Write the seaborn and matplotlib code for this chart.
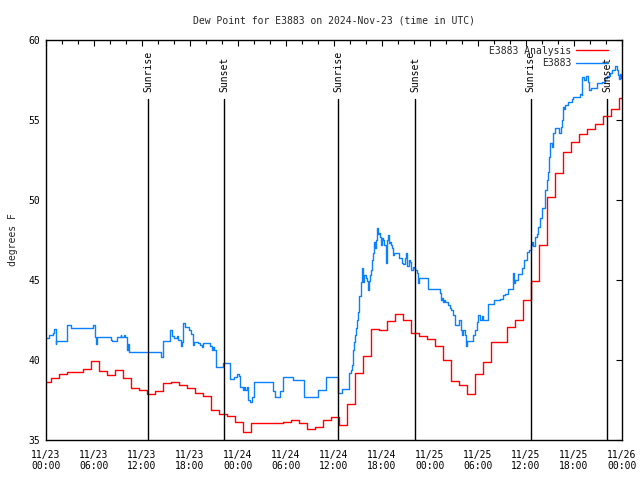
import numpy as np
import pandas as pd
import matplotlib
matplotlib.use("Agg")
import matplotlib.pyplot as plt
import matplotlib.dates as mdates
import seaborn as sns

# ---------------- data ----------------
start = pd.Timestamp("2024-11-23 00:00")

# E3883 Analysis (hourly, red) : first value at 00:00, then hourly from 00:40
analysis_init = 38.6
analysis_vals = [38.9, 39.1, 39.23, 39.23, 39.42, 39.92, 39.3, 39.04, 39.36, 38.86,
                 38.23, 38.1, 37.86, 38.04, 38.54, 38.6, 38.42, 38.23, 37.92, 37.75,
                 36.86, 36.6, 36.48, 36.1, 35.48, 36.04, 36.04, 36.04, 36.04, 36.1,
                 36.23, 36.04, 35.67, 35.8, 36.23, 36.42, 35.92, 37.23, 39.17, 40.23,
                 41.92, 41.86, 42.42, 42.86, 42.5, 41.67, 41.48, 41.3, 40.9, 40.0,
                 38.67, 38.42, 37.86, 39.1, 39.86, 41.1, 41.1, 42.04, 42.48, 43.73,
                 44.92, 47.19, 50.21, 51.67, 53.02, 53.6, 54.1, 54.44, 54.73, 55.23,
                 55.67, 56.35]

# E3883 observations (blue): hours since 11/23 00:00 and dew point
obs_hours = [0.0, 0.4, 0.9, 1.0, 1.2, 1.25, 2.65, 3.1, 5.9, 6.15, 6.3, 6.35, 8.1, 8.3,
             8.9, 9.35, 9.4, 9.75, 9.85, 10.15, 10.25, 10.4, 10.5, 14.4, 14.6, 15.5,
             15.7, 16.0, 16.35, 16.55, 16.85, 17.0, 17.15, 17.35, 17.9, 18.1, 18.35,
             18.5, 19.05, 19.25, 19.45, 19.65, 20.5, 20.7, 20.9, 21.0, 21.25, 22.15,
             23.05, 23.5, 23.85, 24.1, 24.25, 24.6, 24.75, 24.9, 25.1, 25.25, 25.5,
             25.7, 26.04, 28.4, 28.6, 29.25, 29.65, 30.9, 32.3, 34.05, 35.05, 36.45,
             37.0, 37.9, 38.1, 38.2, 38.35, 38.4, 38.55, 38.65, 38.75, 38.9, 39.05,
             39.15, 39.35, 39.45, 39.55, 39.65, 39.8, 39.95, 40.1, 40.2, 40.4, 40.5,
             40.6, 40.8, 40.9, 41.05, 41.1, 41.2, 41.35, 41.45, 41.6, 41.75, 41.9,
             42.0, 42.15, 42.3, 42.45, 42.6, 42.7, 42.85, 43.0, 43.15, 43.25, 43.35,
             43.5, 44.15, 44.35, 44.45, 44.65, 44.9, 45.0, 45.15, 45.35, 45.5, 45.65,
             45.85, 46.0, 46.15, 46.35, 46.5, 46.65, 47.7, 49.25, 49.4, 49.55, 49.6,
             49.8, 49.9, 50.2, 50.5, 50.65, 50.85, 51.15, 51.65, 51.85, 51.95, 52.1,
             52.35, 52.45, 52.6, 53.4, 53.6, 53.85, 54.0, 54.25, 54.45, 54.65, 55.3,
             56.05, 56.75, 57.1, 57.4, 57.7, 58.35, 58.5, 58.65, 59.05, 59.45, 59.8,
             60.1, 60.4, 60.6, 60.75, 60.9, 61.1, 61.35, 61.55, 61.75, 61.95, 62.1,
             62.4, 62.6, 62.8, 62.9, 63.0, 63.2, 63.4, 63.6, 64.15, 64.35, 64.45,
             64.6, 64.75, 64.9, 65.3, 65.7, 65.9, 66.75, 66.95, 67.05, 67.3, 67.5,
             67.7, 67.9, 68.1, 68.85, 69.45, 69.9, 70.15, 70.5, 70.7, 71.1, 71.35,
             71.45, 71.6, 71.75, 71.9, 72.0]
obs_vals = [41.35, 41.56, 41.7, 41.92, 41.0, 41.19, 42.19, 41.97, 42.19, 41.46, 41.0,
            41.42, 41.23, 41.17, 41.46, 41.55, 41.46, 41.55, 41.46, 40.6, 41.0, 40.5,
            40.48, 40.17, 41.17, 41.88, 41.5, 41.35, 41.5, 41.23, 40.9, 41.1, 42.33,
            42.08, 41.9, 41.6, 40.94, 41.15, 41.04, 40.95, 40.83, 41.04, 40.9, 40.6,
            40.8, 40.6, 39.54, 39.79, 38.81, 38.96, 39.1, 39.0, 38.33, 38.1, 38.33,
            38.1, 38.33, 37.5, 37.4, 37.67, 38.6, 38.06, 37.67, 38.06, 38.92, 38.75,
            37.67, 38.1, 38.92, 37.92, 38.17, 39.17, 39.38, 39.69, 40.2, 40.6, 41.1,
            41.56, 41.98, 42.5, 43.0, 44.0, 44.9, 45.6, 45.73, 44.9, 45.3, 45.1,
            44.95, 44.38, 44.95, 45.3, 45.63, 46.25, 46.67, 47.4, 47.0, 47.5, 48.23,
            47.9, 47.96, 47.7, 47.19, 47.6, 47.5, 47.19, 46.04, 47.5, 47.8, 47.3,
            47.4, 47.2, 47.0, 46.56, 46.67, 46.35, 46.35, 46.04, 46.0, 46.35, 46.67,
            45.9, 46.25, 46.15, 45.6, 45.8, 45.73, 45.6, 45.42, 44.8, 45.1, 44.42,
            44.17, 43.75, 43.85, 43.6, 43.75, 43.6, 43.44, 43.23, 43.1, 42.81, 42.19,
            42.5, 41.9, 41.56, 41.9, 41.56, 40.88, 41.21, 41.56, 41.9, 42.4, 42.81,
            42.5, 42.75, 42.5, 43.48, 43.75, 43.8, 44.06, 44.15, 44.42, 45.42, 44.8,
            45.0, 45.4, 45.73, 46.25, 46.77, 46.9, 47.19, 47.4, 47.15, 47.7, 47.9,
            48.33, 48.85, 49.48, 49.5, 50.63, 51.25, 51.77, 52.7, 53.54, 53.33, 54.17,
            54.48, 54.2, 54.54, 55.0, 55.83, 55.7, 55.94, 56.15, 56.3, 56.42, 56.63,
            56.56, 57.71, 57.5, 57.75, 57.4, 56.88, 56.98, 57.29, 57.4, 57.6, 57.75,
            57.92, 58.13, 58.38, 58.13, 57.8, 57.56, 57.9, 57.6, 57.6]

sun_events = ["2024-11-23 12:45", "2024-11-23 22:15", "2024-11-24 12:32",
              "2024-11-24 22:07", "2024-11-25 12:35", "2024-11-25 22:10"]
sun_labels = ["Sunrise", "Sunset", "Sunrise", "Sunset", "Sunrise", "Sunset"]

title = "Dew Point for E3883 on 2024-Nov-23 (time in UTC)"
ylabel = "degrees F"
y_ticks = [35, 40, 45, 50, 55, 60]

# ---------------- build frames ----------------
ana_times = [start] + list(pd.date_range("2024-11-23 00:40", periods=len(analysis_vals), freq="1h")) \
            + [pd.Timestamp("2024-11-26 00:00")]
ana_values = [analysis_init] + analysis_vals + [analysis_vals[-1]]
df_ana = pd.DataFrame({"time": ana_times, "value": ana_values})
df_obs = pd.DataFrame({"time": start + pd.to_timedelta(obs_hours, unit="h"), "value": obs_vals})

# ---------------- plot ----------------
sns.set_style("white")
plt.rcParams["font.family"] = ["DejaVu Sans Mono"]
FS = 7

fig = plt.figure(figsize=(6.4, 4.8), dpi=100)
ax = fig.add_axes([46 / 640, 40 / 480, 576 / 640, 400 / 480])

sns.lineplot(data=df_ana, x="time", y="value", ax=ax, color="#ff0000", lw=1.0,
             drawstyle="steps-post", estimator=None, sort=False, label="E3883 Analysis")
sns.lineplot(data=df_obs, x="time", y="value", ax=ax, color="#0a80ff", lw=1.0,
             drawstyle="steps-post", estimator=None, sort=False, label="E3883")

ymax_line = 56.3
for t, lab in zip(sun_events, sun_labels):
    tt = pd.Timestamp(t)
    ax.plot([tt, tt], [35, ymax_line], color="black", lw=1.0)
    ax.text(tt, ymax_line + 0.45, lab, rotation=90, ha="center", va="bottom",
            fontsize=FS, color="black")

ax.set_xlim(start, pd.Timestamp("2024-11-26 00:00"))
ax.set_ylim(35, 60)
ax.set_yticks(y_ticks)
ax.xaxis.set_major_locator(mdates.HourLocator(byhour=[0, 6, 12, 18]))
ax.xaxis.set_minor_locator(mdates.HourLocator(byhour=range(0, 24, 2)))
ax.xaxis.set_major_formatter(mdates.DateFormatter("%m/%d\n%H:%M"))

ax.tick_params(axis="both", which="both", direction="in", top=True, right=True,
               colors="black", labelsize=FS, width=0.8)
ax.tick_params(axis="both", which="major", length=4.3)
ax.tick_params(axis="x", which="minor", length=2.8)
ax.tick_params(axis="x", which="major", pad=7)
ax.tick_params(axis="y", which="major", pad=4)

for s in ax.spines.values():
    s.set_color("black")
    s.set_linewidth(1.0)

ax.set_xlabel("")
ax.set_ylabel(ylabel, fontsize=FS, labelpad=8)
ax.set_title(title, fontsize=FS, pad=12)

leg = ax.legend(loc="upper right", frameon=False, markerfirst=False, fontsize=FS,
                handlelength=3.2, borderaxespad=0.2, labelspacing=0.25, handletextpad=0.5,
                bbox_to_anchor=(0.985, 1.0))

fig.savefig("out.png", dpi=100)
